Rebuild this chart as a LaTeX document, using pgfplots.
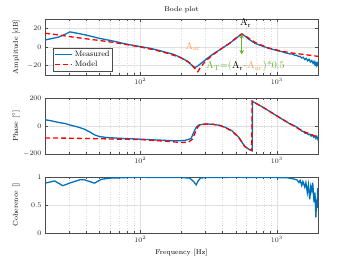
\documentclass[border=0pt]{standalone}
\usepackage{pgfplots}
\pgfplotsset{compat=1.18}
\definecolor{mblue}{rgb}{0,0.447,0.741}
\definecolor{morange}{rgb}{0.96,0.62,0.32}
\definecolor{mgreen}{rgb}{0.40,0.70,0.15}
\pgfplotsset{
  every axis/.append style={
    scale only axis, width=273pt, height=56pt,
    grid=both,
    major grid style={black!12, line width=0.4pt},
    minor grid style={black!13, dotted, line width=0.3pt},
    tick align=inside,
    major tick length=3pt, minor tick length=1.8pt,
    tick style={black!70, line width=0.4pt},
    axis line style={black!70, line width=0.5pt},
    tick label style={font=\fontsize{7}{8}\selectfont, text=black!85},
    label style={font=\fontsize{7}{8}\selectfont},
    ylabel style={at={(axis description cs:-0.08,0.5)}, anchor=south},
  },
  every axis plot/.append style={line width=1.3pt},
}
\begin{document}
\begin{tikzpicture}
\useasboundingbox (0,0) rectangle (350pt,263pt);
% ---------------- Amplitude ----------------
\begin{axis}[xmode=log, xmin=20, xmax=2000, xtick={100,1000},
  minor xtick={20,30,40,50,60,70,80,90,200,300,400,500,600,700,800,900,2000},
  at={(45pt,188pt)}, anchor=south west,
  ymin=-30, ymax=30, ytick={-20,0,20},
  ylabel={Amplitude [dB]},
  title={Bode plot}, title style={font=\fontsize{7}{8}\selectfont, yshift=-3pt},
  legend style={at={(0.03,0.48)}, anchor=north west, font=\fontsize{7.8}{9}\selectfont,
    draw=black!70, fill=white, inner sep=1pt, row sep=-1pt},
  legend cell align=left,
  ]
\addplot[mblue] coordinates {
(20,7.5) (22,8.8) (25,10.5) (28,13.5) (30.5,16.2) (35,14.5) (40,12.8) (50,9.3)
(63,6.4) (80,2.9) (100,0.4) (118,-1.4) (140,-4) (176,-8) (198,-11.4) (220,-15)
(240,-20) (250,-22) (262,-20.5) (278,-17.5) (310,-12) (346,-6.8) (390,-2)
(439,2.9) (490,8) (530,12) (552,14) (580,12) (620,8.5) (690,4) (780,1) (870,-1.4)
(1000,-3.8) (1087,-5) (1150,-6.2) (1200,-6.8) (1250,-7.5) (1300,-7.6) (1350,-8.8)
(1400,-9.0) (1440,-10.2) (1480,-10.0) (1520,-11.8) (1560,-11.0) (1600,-13.5)
(1640,-12.2) (1680,-14.8) (1720,-13.2) (1760,-16.0) (1800,-14.5) (1840,-17.5)
(1870,-15.5) (1900,-19.0) (1930,-16.5) (1960,-20.0) (1980,-17.5) (2000,-19.0)
};
\addlegendentry{Measured}
\addplot[red, dash pattern=on 5pt off 3pt] coordinates {
(20,14.8) (25,13) (30,11.2) (40,8.8) (50,7) (63,5) (80,2.5) (100,0) (130,-3.5)
(160,-7) (198,-11.5) (230,-17) (250,-23) (263,-26.5) (275,-22) (300,-15)
(346,-7.5) (400,-1) (450,4) (500,9.5) (552,14) (600,11) (700,4.5) (870,-1)
(1087,-4.5) (1300,-6.5) (1580,-8) (2000,-10)
};
\addlegendentry{Model}
\draw[<->, >=stealth, mgreen, line width=1pt] (axis cs:552,14) -- (axis cs:552,-8);
\node[font=\fontsize{10}{12}\selectfont, inner sep=0pt] at (axis cs:590,26) {A$_\mathrm{r}$};
\node[font=\fontsize{10}{12}\selectfont, inner sep=0pt, text=morange] at (axis cs:243,0.5) {A$_\mathrm{ar}$};
\node[font=\fontsize{10}{12}\selectfont, inner sep=0pt, anchor=west, text=mgreen] (g1) at (axis cs:303,-20.5) {A$_\mathrm{T}$=(};
\node[font=\fontsize{10}{12}\selectfont, inner sep=0pt, anchor=base west, text=black] (g2) at (g1.base east) {A$_\mathrm{r}$};
\node[font=\fontsize{10}{12}\selectfont, inner sep=0pt, anchor=base west, text=mgreen] (g3) at (g2.base east) {-};
\node[font=\fontsize{10}{12}\selectfont, inner sep=0pt, anchor=base west, text=morange] (g4) at (g3.base east) {A$_\mathrm{ar}$};
\node[font=\fontsize{10}{12}\selectfont, inner sep=0pt, anchor=base west, text=mgreen] (g5) at (g4.base east) {)*0.5};
\end{axis}
% ---------------- Phase ----------------
\begin{axis}[xmode=log, xmin=20, xmax=2000, xtick={100,1000},
  minor xtick={20,30,40,50,60,70,80,90,200,300,400,500,600,700,800,900,2000},
  at={(45pt,109pt)}, anchor=south west,
  ymin=-200, ymax=200, ytick={-200,0,200},
  ylabel={Phase [$^\circ$]},
  ]
\addplot[mblue] coordinates {
(20,45) (22,38) (25.5,24) (28,18) (30.5,7) (35,-8) (39,-23) (43,-45) (46,-63)
(50,-75) (56,-82) (71,-88) (100,-94) (133,-100) (182,-106) (210,-104) (235,-90)
(242,-60) (250,-30) (258,-5) (270,8) (300,15) (340,12) (380,5) (420,-10)
(470,-35) (525,-80) (550,-110) (580,-145) (620,-165) (660,-177) (662,176)
(800,131) (1030,64) (1250,14) (1300,8) (1350,0) (1400,-8) (1450,-20) (1500,-28)
(1530,-38) (1570,-40) (1610,-52) (1650,-50) (1700,-62) (1740,-58) (1780,-72)
(1820,-64) (1860,-80) (1900,-70) (1930,-88) (1960,-74) (1990,-92) (2000,-80)
};
\addplot[red, dash pattern=on 5pt off 3pt] coordinates {
(20,-85) (30,-87) (50,-91) (100,-97) (150,-108) (200,-118) (225,-115) (240,-95)
(250,-55) (258,-20) (270,5) (300,14) (340,12) (380,4) (420,-12) (470,-37)
(525,-82) (580,-145) (620,-165) (655,-175) (657,178) (800,130) (1030,64)
(1530,-35) (2000,-80)
};
\end{axis}
% ---------------- Coherence ----------------
\begin{axis}[xmode=log, xmin=20, xmax=2000, xtick={100,1000},
  minor xtick={20,30,40,50,60,70,80,90,200,300,400,500,600,700,800,900,2000},
  at={(45pt,30pt)}, anchor=south west,
  ymin=0, ymax=1, ytick={0,0.5,1},
  ylabel={Coherence []},
  xlabel={Frequency [Hz]},
  ]
\addplot[mblue] coordinates {
(20,0.89) (23.5,0.93) (27,0.845) (31,0.9) (36,0.95) (39,0.95) (46,0.89) (52,0.96)
(60,0.98) (80,0.99) (100,0.995) (150,0.99) (200,0.99) (230,0.98) (245,0.92)
(256,0.86) (265,0.93) (275,0.98) (300,0.99) (500,0.995) (800,0.99) (1000,0.99)
(1200,0.985) (1300,0.97) (1400,0.95) (1450,0.9) (1480,0.94) (1520,0.85)
(1550,0.92) (1600,0.82) (1630,0.9) (1670,0.72) (1700,0.86) (1740,0.6)
(1770,0.83) (1800,0.75) (1830,0.9) (1870,0.55) (1900,0.72) (1930,0.28)
(1950,0.6) (1970,0.45) (1990,0.8) (2000,0.65)
};
\end{axis}
\end{tikzpicture}
\end{document}
